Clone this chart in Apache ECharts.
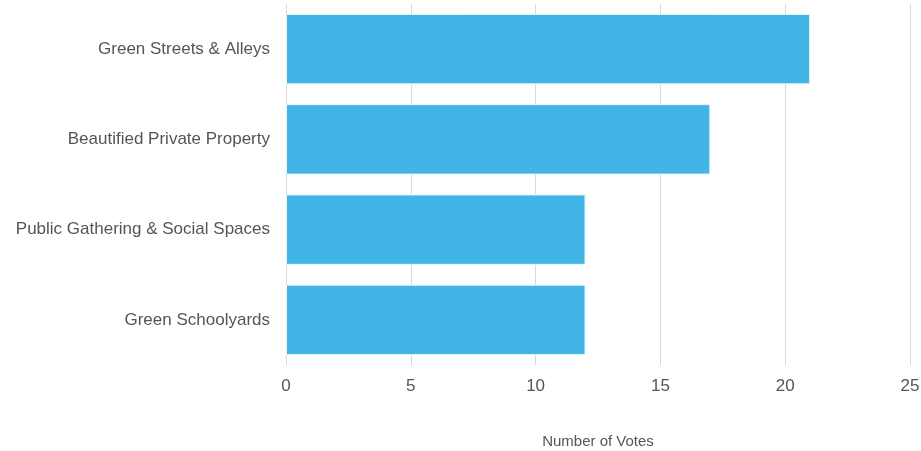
<!DOCTYPE html>
<html>
<head>
<meta charset="utf-8">
<script src="https://cdn.jsdelivr.net/npm/echarts@6/dist/echarts.min.js"></script>
<style>
  html, body { margin: 0; padding: 0; background: #fff; }
  #box { width: 921px; height: 451px; }
</style>
</head>
<body>
<div id="box"></div>
<script>
// categories top to bottom
const categories = ["Green Streets & Alleys", "Beautified Private Property", "Public Gathering & Social Spaces", "Green Schoolyards"];
const votes = [21, 17, 12, 12];
const xTicks = [0, 5, 10, 15, 20, 25];

let myChart = echarts.init(document.getElementById("box"));
let option = {
  animation: false,
  grid: { left: 286, right: 11, top: 4, bottom: 86, outerBoundsMode: "none", containLabel: false },
  xAxis: {
    type: "value",
    min: xTicks[0],
    max: xTicks[xTicks.length - 1],
    interval: 5,
    name: "Number of Votes",
    nameLocation: "middle",
    nameGap: 69,
    nameTextStyle: { color: "#555", fontSize: 15, fontFamily: "Liberation Sans" },
    axisLine: { show: false },
    axisTick: { show: false },
    axisLabel: { color: "#555", fontSize: 17, margin: 13, fontFamily: "Liberation Sans" },
    splitLine: { show: true, lineStyle: { color: "#d9d9d9", width: 1 } }
  },
  yAxis: {
    type: "category",
    inverse: true,
    data: categories,
    axisLine: { show: false },
    axisTick: { show: false },
    axisLabel: { color: "#555", fontSize: 17, margin: 16, fontFamily: "Liberation Sans" }
  },
  series: [{
    type: "bar",
    data: votes,
    barCategoryGap: "22%",
    itemStyle: { color: "#42b4e6", borderColor: "#e8f6fc", borderWidth: 1 }
  }]
};
myChart.setOption(option);
</script>
</body>
</html>
